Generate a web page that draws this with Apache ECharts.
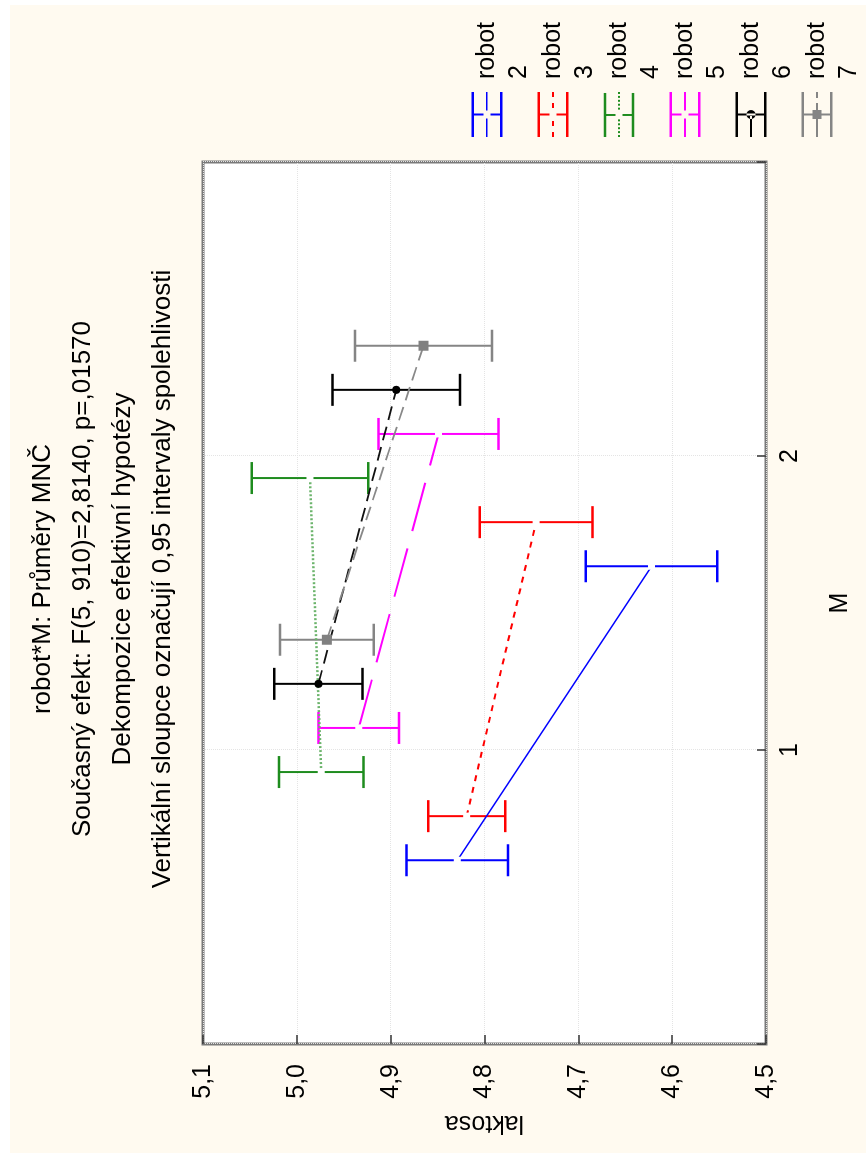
<!DOCTYPE html>
<html>
<head>
<meta charset="utf-8">
<script src="https://cdn.jsdelivr.net/npm/echarts@6/dist/echarts.min.js"></script>
<style>
html,body{margin:0;padding:0;background:#ffffff;width:866px;height:1153px;overflow:hidden;}
#chart{position:absolute;left:0;top:0;width:1148px;height:856px;transform-origin:0 0;transform:translate(10px,1153px) rotate(-90deg);}
</style>
</head>
<body>
<div id="chart"></div>
<script>
// ---- data ----
const mLevels = [1, 2];                       // M categories
const xTickLabels = ['1', '2'];
const yTickLabels = ['4,5', '4,6', '4,7', '4,8', '4,9', '5,0', '5,1'];
const robotNames = ['robot 2', 'robot 3', 'robot 4', 'robot 5', 'robot 6', 'robot 7'];
const robotOffsets = [-0.375, -0.225, -0.075, 0.075, 0.225, 0.375];
const robot2Mean = [4.829, 4.622];
const robot2Ci   = [0.054, 0.070];
const robot3Mean = [4.819, 4.745];
const robot3Ci   = [0.041, 0.060];
const robot4Mean = [4.974, 4.986];
const robot4Ci   = [0.045, 0.062];
const robot5Mean = [4.934, 4.849];
const robot5Ci   = [0.043, 0.064];
const robot6Mean = [4.977, 4.894];
const robot6Ci   = [0.047, 0.068];
const robot7Mean = [4.968, 4.865];
const robot7Ci   = [0.050, 0.073];
const titleLines = [
  'robot*M: Průměry MNČ',
  'Současný efekt: F(5, 910)=2,8140, p=,01570',
  'Dekompozice efektivní hypotézy',
  'Vertikální sloupce označují 0,95 intervaly spolehlivosti'
];

const means = [robot2Mean, robot3Mean, robot4Mean, robot5Mean, robot6Mean, robot7Mean];
const cis = [robot2Ci, robot3Ci, robot4Ci, robot5Ci, robot6Ci, robot7Ci];

// ---- styles ----
const FONT = 'Liberation Sans, Arial, sans-serif';
const colors = ['#0000FF', '#FF0000', '#1E8C1E', '#FF00FF', '#000000', '#858585'];
const lineStyles = [
  {color: '#0000FF', width: 1.5, type: 'solid'},
  {color: '#FF0000', width: 2, type: [6, 6]},
  {color: '#6cb46c', width: 2.5, type: [2, 2]},
  {color: '#FF00FF', width: 2, type: [50, 18]},
  {color: '#111111', width: 1.8, type: [14, 7]},
  {color: '#888888', width: 1.8, type: [14, 7]}
];
const markers = [
  {symbol: 'rect', size: 7, color: '#ffffff'},
  {symbol: 'rect', size: 7, color: '#ffffff'},
  {symbol: 'rect', size: 7, color: '#ffffff'},
  {symbol: 'rect', size: 7, color: '#ffffff'},
  {symbol: 'circle', size: 8, color: '#000000'},
  {symbol: 'rect', size: 10, color: '#808080'}
];

function r(x, y, w, h) { return 'M' + x + ' ' + y + 'H' + (x + w) + 'V' + (y + h) + 'H' + x + 'Z'; }
const caps = r(0, 0, 45, 2.5) + r(0, 28.5, 45, 2.5);
const splitWhisker = r(21.5, 2.5, 2, 9.5) + r(21.5, 19, 2, 9.5);
const fullWhisker = r(21.5, 2.5, 2, 26);
function dots() { let s = ''; for (let i = 0; i < 45; i += 4) { if (i > 16 && i < 27) continue; s += r(i, 14.5, 2, 2); } return s; }
const icons = [
  caps + splitWhisker + r(0, 14.5, 18.5, 1.5) + r(26.5, 14.5, 18.5, 1.5),
  caps + splitWhisker + r(0, 14.5, 5, 2) + r(11, 14.5, 5, 2) + r(29, 14.5, 5, 2) + r(40, 14.5, 5, 2),
  caps + splitWhisker + dots(),
  caps + splitWhisker + r(0, 14.5, 18.5, 2) + r(26.5, 14.5, 18.5, 2),
  caps + fullWhisker + r(0, 14.5, 22, 2) + 'M27 15.5A4.5 4.5 0 1 0 18 15.5A4.5 4.5 0 1 0 27 15.5Z',
  caps + fullWhisker + r(0, 14.5, 34, 2) + r(39, 14.5, 6, 2) + r(18, 11, 9, 9)
].map(p => 'path://' + p);

function errorBarRenderer(color) {
  return function (params, api) {
    const x = api.value(0), lo = api.value(2), hi = api.value(3);
    const a = api.coord([x, lo]), b = api.coord([x, hi]);
    const hw = 16;
    return {
      type: 'group',
      children: [
        {type: 'line', shape: {x1: a[0], y1: a[1], x2: b[0], y2: b[1]}, style: {stroke: color, lineWidth: 2}},
        {type: 'line', shape: {x1: a[0] - hw, y1: a[1], x2: a[0] + hw, y2: a[1]}, style: {stroke: color, lineWidth: 2.5}},
        {type: 'line', shape: {x1: b[0] - hw, y1: b[1], x2: b[0] + hw, y2: b[1]}, style: {stroke: color, lineWidth: 2.5}}
      ]
    };
  };
}

const series = [];
robotNames.forEach((name, i) => {
  const data = mLevels.map((m, j) => [m + robotOffsets[i], means[i][j], means[i][j] - cis[i][j], means[i][j] + cis[i][j]]);
  series.push({
    type: 'custom', name: name, renderItem: errorBarRenderer(colors[i]),
    itemStyle: {color: colors[i]},
    encode: {x: 0, y: [1, 2, 3]}, data: data, z: 2
  });
});
robotNames.forEach((name, i) => {
  const data = mLevels.map((m, j) => [m + robotOffsets[i], means[i][j]]);
  series.push({
    type: 'line', name: name, data: data, z: 3,
    lineStyle: lineStyles[i],
    symbol: markers[i].symbol, symbolSize: markers[i].size, showSymbol: true,
    itemStyle: {color: markers[i].color, borderWidth: 0},
    emphasis: {disabled: true}
  });
});

const chart = echarts.init(document.getElementById('chart'));
chart.setOption({
  backgroundColor: '#FFFAF0',
  animation: false,
  textStyle: {fontFamily: FONT},
  title: {
    text: titleLines.join('\n'), left: 'center', top: 13, padding: 0,
    textStyle: {fontFamily: FONT, fontSize: 26, fontWeight: 'normal', color: '#000', lineHeight: 40}
  },
  legend: {
    orient: 'vertical', left: 1016, top: 429, padding: 0, itemGap: -30,
    itemWidth: 45, itemHeight: 31,
    data: robotNames.map((n, i) => ({name: n, icon: icons[i]})),
    formatter: n => { const p = n.split(' '); return '{e| }\n{t|' + p[0] + '}\n{t|' + p[1] + '}'; },
    textStyle: {
      fontFamily: FONT, fontSize: 25, color: '#000', lineHeight: 32,
      rich: {
        e: {fontSize: 25, lineHeight: 32, padding: [0, 0, 0, 8]},
        t: {fontFamily: FONT, fontSize: 25, color: '#000', lineHeight: 32, padding: [0, 0, 0, 8]}
      }
    }
  },
  grid: {left: 109, right: 157, top: 193, bottom: 100, show: true, backgroundColor: '#ffffff', borderColor: '#7a7a7a', borderWidth: 3},
  xAxis: {
    type: 'value', min: 0, max: 3, interval: 1,
    name: 'M', nameLocation: 'middle', nameGap: 62,
    nameTextStyle: {fontFamily: FONT, fontSize: 25, color: '#000'},
    axisLine: {show: false},
    axisTick: {show: true, inside: true, length: 9, lineStyle: {color: '#333', width: 1.5}},
    axisLabel: {show: true, margin: 12, fontFamily: FONT, fontSize: 25, color: '#000',
      formatter: v => { const k = mLevels.indexOf(v); return k >= 0 ? xTickLabels[k] : ''; }},
    splitLine: {show: true, lineStyle: {color: '#e4e4e4', type: 'dotted', width: 1}}
  },
  yAxis: {
    type: 'value', min: 4.5, max: 5.1, interval: 0.1,
    name: 'laktosa', nameLocation: 'middle', nameGap: 66,
    nameTextStyle: {fontFamily: FONT, fontSize: 25, color: '#000'},
    axisLine: {show: false},
    axisTick: {show: true, inside: true, length: 9, lineStyle: {color: '#333', width: 1.5}},
    axisLabel: {margin: 20, fontFamily: FONT, fontSize: 25, color: '#000',
      formatter: v => yTickLabels[Math.round((v - 4.5) * 10)]},
    splitLine: {show: true, lineStyle: {color: '#e4e4e4', type: 'dotted', width: 1}}
  },
  series: series
});
</script>
</body>
</html>
